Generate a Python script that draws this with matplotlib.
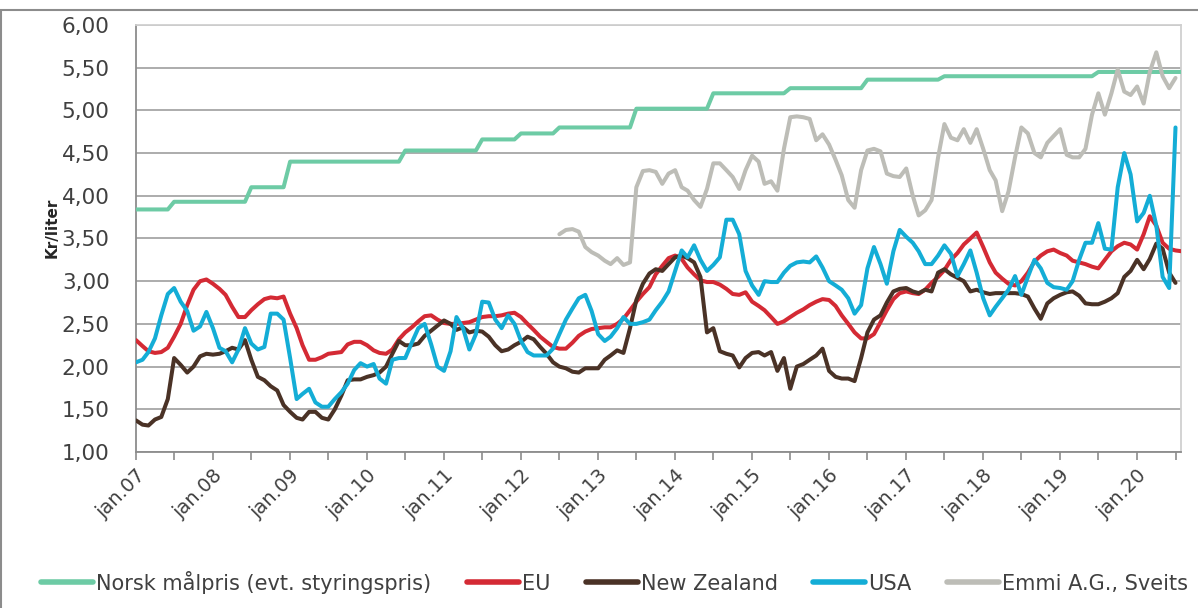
import matplotlib
matplotlib.use("Agg")
import matplotlib.pyplot as plt
import numpy as np
import pandas as pd
from matplotlib.patches import Rectangle

plt.rcParams["font.family"] = ["DejaVu Sans"]

# monthly values, first value = jan.2007
EU = [
    2.31, 2.24, 2.18, 2.16, 2.17, 2.22, 2.35, 2.50, 2.72, 2.90, 3.00, 3.02,
    2.97, 2.91, 2.84, 2.70, 2.58, 2.58, 2.66, 2.73, 2.79, 2.81, 2.80, 2.82,
    2.62, 2.45, 2.25, 2.08, 2.08, 2.11, 2.15, 2.16, 2.17, 2.26, 2.29, 2.29,
    2.25, 2.19, 2.16, 2.15, 2.20, 2.32, 2.40, 2.46, 2.53, 2.59, 2.60, 2.55,
    2.51, 2.50, 2.50, 2.51, 2.52, 2.55, 2.58, 2.59, 2.59, 2.60, 2.62, 2.63,
    2.58, 2.50, 2.43, 2.35, 2.29, 2.23, 2.21, 2.21, 2.28, 2.36, 2.41, 2.44,
    2.45, 2.46, 2.46, 2.50, 2.56, 2.66, 2.76, 2.85, 2.93, 3.08, 3.18, 3.27,
    3.30, 3.26, 3.16, 3.08, 3.01, 2.99, 2.99, 2.96, 2.91, 2.85, 2.84, 2.87,
    2.76, 2.71, 2.66, 2.58, 2.50, 2.53, 2.58, 2.63, 2.67, 2.72, 2.76, 2.79,
    2.78, 2.71, 2.60, 2.50, 2.40, 2.33, 2.33, 2.38, 2.52, 2.66, 2.79, 2.86,
    2.88, 2.86, 2.85, 2.90, 2.98, 3.05, 3.13, 3.25, 3.33, 3.43, 3.50, 3.57,
    3.40, 3.22, 3.10, 3.03, 2.97, 2.95, 3.00, 3.10, 3.23, 3.30, 3.35, 3.37,
    3.33, 3.30, 3.24, 3.22, 3.20, 3.17, 3.15, 3.25, 3.35, 3.41, 3.45, 3.43,
    3.37, 3.55, 3.76, 3.65, 3.45, 3.38, 3.36, 3.35,
]

NEW_ZEALAND = [
    1.37, 1.32, 1.31, 1.38, 1.41, 1.62, 2.10, 2.02, 1.93, 2.00, 2.12, 2.15,
    2.14, 2.15, 2.18, 2.22, 2.20, 2.31, 2.08, 1.88, 1.84, 1.77, 1.72, 1.55,
    1.47, 1.40, 1.38, 1.47, 1.47, 1.40, 1.38, 1.50, 1.66, 1.84, 1.85, 1.85,
    1.88, 1.90, 1.93, 2.00, 2.15, 2.30, 2.25, 2.25, 2.27, 2.36, 2.42, 2.48,
    2.54, 2.50, 2.43, 2.46, 2.40, 2.42, 2.41, 2.35, 2.25, 2.18, 2.20, 2.25,
    2.29, 2.35, 2.32, 2.23, 2.15, 2.05, 2.00, 1.98, 1.94, 1.93, 1.98, 1.98,
    1.98, 2.08, 2.13, 2.19, 2.16, 2.45, 2.78, 2.97, 3.09, 3.14, 3.12, 3.20,
    3.28, 3.30, 3.27, 3.22, 3.05, 2.40, 2.45, 2.18, 2.15, 2.13, 1.99, 2.10,
    2.16, 2.17, 2.13, 2.17, 1.95, 2.10, 1.74, 2.00, 2.03, 2.08, 2.13, 2.21,
    1.95, 1.88, 1.86, 1.86, 1.83, 2.10, 2.40, 2.55, 2.60, 2.75, 2.88, 2.91,
    2.92, 2.88, 2.86, 2.90, 2.88, 3.10, 3.14, 3.08, 3.04, 3.00, 2.88, 2.90,
    2.87, 2.85, 2.86, 2.86, 2.86, 2.86, 2.85, 2.82, 2.68, 2.56, 2.74, 2.80,
    2.84, 2.87, 2.88, 2.83, 2.74, 2.73, 2.73, 2.76, 2.80, 2.86, 3.05, 3.12,
    3.25, 3.14, 3.26, 3.44, 3.38, 3.10, 2.98,
]

USA = [
    2.05, 2.08, 2.17, 2.33, 2.60, 2.85, 2.92, 2.76, 2.65, 2.42, 2.47, 2.64,
    2.45, 2.22, 2.18, 2.05, 2.20, 2.45, 2.27, 2.20, 2.23, 2.62, 2.62, 2.55,
    2.10, 1.62, 1.68, 1.74, 1.58, 1.53, 1.53, 1.62, 1.70, 1.80, 1.96, 2.04,
    2.00, 2.03, 1.86, 1.80, 2.08, 2.10, 2.10, 2.28, 2.45, 2.50, 2.26, 2.00,
    1.95, 2.18, 2.58, 2.45, 2.20, 2.38, 2.76, 2.75, 2.55, 2.45, 2.60, 2.50,
    2.30, 2.17, 2.13, 2.13, 2.13, 2.21, 2.38, 2.55, 2.68, 2.80, 2.84, 2.65,
    2.38, 2.30, 2.35, 2.45, 2.58, 2.50, 2.50, 2.52, 2.55, 2.66, 2.76, 2.88,
    3.12, 3.36, 3.28, 3.42, 3.25, 3.12, 3.19, 3.28, 3.72, 3.72, 3.55, 3.12,
    2.95, 2.84, 3.00, 2.99, 2.99, 3.10, 3.18, 3.22, 3.23, 3.22, 3.29, 3.16,
    3.00, 2.95, 2.90, 2.80, 2.62, 2.72, 3.15, 3.40, 3.20, 2.97, 3.35, 3.60,
    3.52, 3.45, 3.35, 3.20, 3.20, 3.30, 3.42, 3.32, 3.06, 3.20, 3.36, 3.10,
    2.80, 2.60, 2.70, 2.80, 2.90, 3.06, 2.84, 3.05, 3.25, 3.15, 2.98, 2.93,
    2.92, 2.90, 3.00, 3.25, 3.45, 3.45, 3.68, 3.38, 3.37, 4.10, 4.50, 4.25,
    3.70, 3.80, 4.00, 3.65, 3.05, 2.92, 4.80,
]

# Emmi series starts jul.2012
EMMI_START = "2012-07-01"
EMMI = [
    3.55, 3.60, 3.61, 3.58, 3.40, 3.34,
    3.30, 3.24, 3.20, 3.27, 3.19, 3.22, 4.10, 4.29, 4.30, 4.28, 4.14, 4.26,
    4.30, 4.10, 4.06, 3.95, 3.87, 4.08, 4.38, 4.38, 4.30, 4.22, 4.08, 4.30,
    4.47, 4.40, 4.14, 4.17, 4.06, 4.55, 4.92, 4.93, 4.92, 4.90, 4.65, 4.72,
    4.60, 4.42, 4.24, 3.95, 3.86, 4.30, 4.53, 4.55, 4.52, 4.26, 4.23, 4.22,
    4.32, 4.00, 3.77, 3.83, 3.95, 4.45, 4.84, 4.68, 4.65, 4.78, 4.62, 4.78,
    4.55, 4.30, 4.18, 3.82, 4.05, 4.45, 4.80, 4.73, 4.50, 4.45, 4.62, 4.70,
    4.78, 4.48, 4.45, 4.45, 4.55, 4.95, 5.20, 4.95, 5.20, 5.48, 5.22, 5.18,
    5.28, 5.08, 5.45, 5.68, 5.40, 5.26, 5.38,
]

# target price: level and number of months it was valid
NORSK_LEVELS = [3.84, 3.93, 4.10, 4.40, 4.53, 4.66, 4.73, 4.80, 5.02, 5.20, 5.26, 5.36, 5.40, 5.45]
NORSK_MONTHS = [6, 12, 6, 18, 12, 6, 6, 12, 12, 12, 12, 12, 24, 14]

LABELS = [
    "Norsk målpris (evt. styringspris)",
    "EU",
    "New Zealand",
    "USA",
    "Emmi A.G., Sveits",
]
COLORS = ["#6DCBA5", "#D42A34", "#4A3226", "#14ADD6", "#BDBDB7"]

YTICKS = [1.0, 1.5, 2.0, 2.5, 3.0, 3.5, 4.0, 4.5, 5.0, 5.5, 6.0]


def months(start, n):
    return pd.date_range(start, periods=n, freq="MS")


norsk = np.repeat(NORSK_LEVELS, NORSK_MONTHS)
series = [
    (months("2007-01-01", len(norsk)), norsk),
    (months("2007-01-01", len(EU)), EU),
    (months("2007-01-01", len(NEW_ZEALAND)), NEW_ZEALAND),
    (months("2007-01-01", len(USA)), USA),
    (months(EMMI_START, len(EMMI)), EMMI),
]

fig = plt.figure(figsize=(11.98, 6.08), dpi=100)
ax = fig.add_axes([0.1135, 0.2566, 0.8723, 0.7023])

for (dates, values), label, color in zip(series, LABELS, COLORS):
    ax.plot(dates, values, color=color, linewidth=2.9, label=label,
            solid_joinstyle="round", solid_capstyle="round", zorder=3)

ax.set_ylim(1.0, 6.0)
ax.set_yticks(YTICKS)
ax.set_yticklabels([f"{v:.2f}".replace(".", ",") for v in YTICKS])
ax.set_xlim(pd.Timestamp("2007-01-01"), pd.Timestamp("2020-07-27"))

tick_dates = pd.date_range("2007-01-01", "2020-07-01", freq="6MS")
ax.set_xticks(tick_dates)
ax.set_xticklabels([f"jan.{d:%y}" if d.month == 1 else "" for d in tick_dates],
                   rotation=45, ha="right", rotation_mode="anchor")

ax.grid(axis="y", color="#A6A6A6", linewidth=1.3, zorder=1)
ax.set_axisbelow(True)
for side in ["top", "right"]:
    ax.spines[side].set_color("#D0D0D0")
    ax.spines[side].set_linewidth(1.3)
ax.spines["left"].set_color("#8C8C8C")
ax.spines["bottom"].set_color("#8C8C8C")
ax.spines["left"].set_linewidth(1.3)
ax.spines["bottom"].set_linewidth(1.3)
ax.tick_params(axis="x", direction="out", length=6, width=1.2, color="#8C8C8C",
               labelsize=14, labelcolor="#404040", pad=4)
ax.tick_params(axis="y", length=0, labelsize=15.5, labelcolor="#404040", pad=19)
ax.set_ylabel("Kr/liter", fontsize=11, fontweight="bold", color="#262626")
ax.yaxis.set_label_coords(-0.073, 0.525)

fig.legend(loc="lower center", bbox_to_anchor=(0.513, -0.007), ncol=5, frameon=False,
           fontsize=15, handlelength=2.5, handletextpad=0.15, columnspacing=1.7,
           labelcolor="#404040")
for line in fig.legends[0].get_lines():
    line.set_linewidth(4)

# outer chart frame (only top and left edges fall inside the image)
fig.patches.append(Rectangle((0.001, -0.05), 1.2, 1.0336, transform=fig.transFigure,
                             fill=False, edgecolor="#8C8C8C", linewidth=1.5))

fig.savefig("out.png", dpi=100)
